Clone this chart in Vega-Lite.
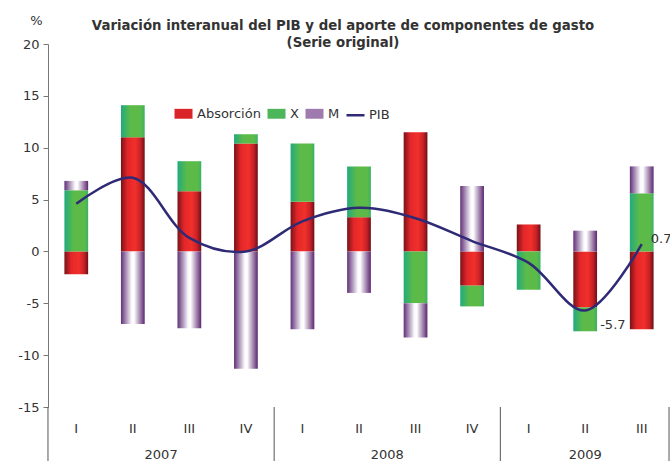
{
  "$schema": "https://vega.github.io/schema/vega-lite/v6.json",
  "autosize": "none",
  "width": 622,
  "height": 363,
  "padding": {"left": 48, "top": 44, "right": 0, "bottom": 54},
  "background": "white",
  "config": {"font": "DejaVu Sans", "view": {"stroke": null}},
  "title": {
    "text": ["Variación interanual del PIB y del aporte de componentes de gasto", "(Serie original)"],
    "font": "DejaVu Sans", "fontSize": 13.3, "fontWeight": "bold", "color": "#333333", "anchor": "middle", "frame": "group",
    "dx": -16, "offset": -35, "lineHeight": 17
  },
  "datasets": {
    "comp": [
      {"per": "2007-I", "comp": "Absorción", "val": -2.2}, {"per": "2007-I", "comp": "X", "val": 5.9}, {"per": "2007-I", "comp": "M", "val": 0.9},
      {"per": "2007-II", "comp": "Absorción", "val": 11.0}, {"per": "2007-II", "comp": "X", "val": 3.1}, {"per": "2007-II", "comp": "M", "val": -7.0},
      {"per": "2007-III", "comp": "Absorción", "val": 5.8}, {"per": "2007-III", "comp": "X", "val": 2.9}, {"per": "2007-III", "comp": "M", "val": -7.4},
      {"per": "2007-IV", "comp": "Absorción", "val": 10.4}, {"per": "2007-IV", "comp": "X", "val": 0.9}, {"per": "2007-IV", "comp": "M", "val": -11.3},
      {"per": "2008-I", "comp": "Absorción", "val": 4.8}, {"per": "2008-I", "comp": "X", "val": 5.6}, {"per": "2008-I", "comp": "M", "val": -7.5},
      {"per": "2008-II", "comp": "Absorción", "val": 3.3}, {"per": "2008-II", "comp": "X", "val": 4.9}, {"per": "2008-II", "comp": "M", "val": -4.0},
      {"per": "2008-III", "comp": "Absorción", "val": 11.5}, {"per": "2008-III", "comp": "X", "val": -5.0}, {"per": "2008-III", "comp": "M", "val": -3.3},
      {"per": "2008-IV", "comp": "Absorción", "val": -3.3}, {"per": "2008-IV", "comp": "X", "val": -2.0}, {"per": "2008-IV", "comp": "M", "val": 6.3},
      {"per": "2009-I", "comp": "Absorción", "val": 2.6}, {"per": "2009-I", "comp": "X", "val": -3.7}, {"per": "2009-I", "comp": "M", "val": 0.0},
      {"per": "2009-II", "comp": "Absorción", "val": -5.4}, {"per": "2009-II", "comp": "X", "val": -2.3}, {"per": "2009-II", "comp": "M", "val": 2.0},
      {"per": "2009-III", "comp": "Absorción", "val": -7.5}, {"per": "2009-III", "comp": "X", "val": 5.6}, {"per": "2009-III", "comp": "M", "val": 2.6}
    ],
    "pib": [
      {"per": "2007-I", "pib": 4.6}, {"per": "2007-II", "pib": 7.1}, {"per": "2007-III", "pib": 1.3}, {"per": "2007-IV", "pib": 0.0},
      {"per": "2008-I", "pib": 2.9}, {"per": "2008-II", "pib": 4.2}, {"per": "2008-III", "pib": 3.2}, {"per": "2008-IV", "pib": 1.0},
      {"per": "2009-I", "pib": -1.1}, {"per": "2009-II", "pib": -5.7}, {"per": "2009-III", "pib": 0.7}
    ],
    "years": [
      {"year": "2007", "per": "2007-II", "grp": "a"}, {"year": "2008", "per": "2008-II", "grp": "a"}, {"year": "2009", "per": "2009-II", "grp": "b"}
    ],
    "seps": [
      {"per": "2007-I", "side": "left"}, {"per": "2008-I", "side": "left"}, {"per": "2009-I", "side": "left"}, {"per": "2009-III", "side": "right"}
    ]
  },
  "encoding": {
    "x": {
      "field": "per", "type": "nominal", "sort": null,
      "scale": {"domain": ["2007-I","2007-II","2007-III","2007-IV","2008-I","2008-II","2008-III","2008-IV","2009-I","2009-II","2009-III"], "paddingInner": 0.58, "paddingOuter": 0.29},
      "axis": {"title": null, "domain": false, "ticks": false, "labelAngle": 0, "labelExpr": "split(datum.value, '-')[1]", "labelPadding": 15, "labelFontSize": 13, "labelColor": "#333333"}
    }
  },
  "layer": [
    {
      "data": {"name": "comp"},
      "transform": [
        {"calculate": "indexof(['Absorción','X','M'], datum.comp)", "as": "ord"},
        {"stack": "val", "groupby": ["per"], "sort": [{"field": "ord", "order": "ascending"}], "offset": "zero", "as": ["v0", "v1"]}
      ],
      "encoding": {
        "y": {
          "field": "v0", "type": "quantitative",
          "scale": {"domain": [-15, 20], "nice": false, "zero": false},
          "axis": {"values": [-15, -10, -5, 0, 5, 10, 15, 20], "labelExpr": "'' + datum.value", "grid": false, "tickSize": 5, "tickColor": "#777777", "domainColor": "#777777", "labelFontSize": 13, "labelColor": "#333333", "labelPadding": 4,
                   "title": "%", "titleAngle": 0, "titleX": -12, "titleY": -24, "titleAlign": "center", "titleBaseline": "middle", "titleFontSize": 13, "titleFontWeight": "normal", "titleColor": "#333333"}
        },
        "y2": {"field": "v1"}
      },
      "layer": [
        {
          "transform": [{"filter": "datum.comp === 'Absorción'"}],
          "mark": {"type": "bar", "color": {"gradient": "linear", "x1": 0, "y1": 0, "x2": 1, "y2": 0, "stops": [{"offset": 0, "color": "#781317"}, {"offset": 0.28, "color": "#E3262A"}, {"offset": 0.6, "color": "#F1302A"}, {"offset": 0.82, "color": "#C92128"}, {"offset": 1, "color": "#6E1016"}]}}
        },
        {
          "transform": [{"filter": "datum.comp === 'X'"}],
          "mark": {"type": "bar", "color": {"gradient": "linear", "x1": 0, "y1": 0, "x2": 1, "y2": 0, "stops": [{"offset": 0, "color": "#22AA7E"}, {"offset": 0.4, "color": "#5CBB48"}, {"offset": 0.85, "color": "#5CBB48"}, {"offset": 1, "color": "#38B166"}]}}
        },
        {
          "transform": [{"filter": "datum.comp === 'M'"}],
          "mark": {"type": "bar", "color": {"gradient": "linear", "x1": 0, "y1": 0, "x2": 1, "y2": 0, "stops": [{"offset": 0, "color": "#603078"}, {"offset": 0.45, "color": "#FBFAFC"}, {"offset": 0.55, "color": "#FFFFFF"}, {"offset": 1, "color": "#5C2670"}]}}
        },
        {
          "mark": {"type": "bar", "opacity": 0},
          "encoding": {
            "color": {
              "field": "comp", "type": "nominal",
              "scale": {"domain": ["Absorción", "X", "M", "PIB"], "range": ["#D9252A", "#4DB55A", "#9E7AAE", "#2E2A76"]},
              "legend": {
                "title": null, "orient": "none", "legendX": 125, "legendY": 59, "direction": "horizontal",
                "labelFontSize": 13, "labelColor": "#333333", "labelOffset": 3, "columnPadding": 1, "symbolSize": 324, "symbolOpacity": 1,
                "encode": {"symbols": {"update": {
                  "shape": {"signal": "datum.value === 'PIB' ? 'stroke' : 'M-1,-0.55H1V0.55H-1Z'"},
                  "stroke": {"signal": "datum.value === 'PIB' ? '#2E2A76' : 'transparent'"},
                  "strokeWidth": {"value": 2.5},
                  "opacity": {"value": 1}
                }}}
              }
            }
          }
        }
      ]
    },
    {
      "mark": {"type": "rule", "color": "#222222", "strokeWidth": 1},
      "encoding": {"y": {"datum": 0}, "x": null}
    },
    {
      "data": {"name": "pib"},
      "mark": {"type": "line", "interpolate": "catmull-rom", "strokeWidth": 2.5, "color": "#2E2A76"},
      "encoding": {"y": {"field": "pib", "type": "quantitative"}}
    },
    {
      "data": {"name": "pib"},
      "transform": [{"filter": "datum.per === '2009-II'"}],
      "mark": {"type": "text", "align": "left", "baseline": "middle", "dx": 15, "dy": 14, "fontSize": 13, "color": "#333333"},
      "encoding": {"y": {"field": "pib", "type": "quantitative"}, "text": {"field": "pib", "type": "nominal"}}
    },
    {
      "data": {"name": "pib"},
      "transform": [{"filter": "datum.per === '2009-III'"}],
      "mark": {"type": "text", "align": "left", "baseline": "middle", "dx": 9, "dy": -5, "fontSize": 13, "color": "#333333"},
      "encoding": {"y": {"field": "pib", "type": "quantitative"}, "text": {"field": "pib", "type": "nominal"}}
    },
    {
      "data": {"name": "years"},
      "transform": [{"filter": "datum.grp === 'a'"}],
      "mark": {"type": "text", "align": "center", "baseline": "middle", "xOffset": 28.3, "fontSize": 13, "color": "#333333"},
      "encoding": {"y": {"datum": -19.6}, "text": {"field": "year"}}
    },
    {
      "data": {"name": "years"},
      "transform": [{"filter": "datum.grp === 'b'"}],
      "mark": {"type": "text", "align": "center", "baseline": "middle", "fontSize": 13, "color": "#333333"},
      "encoding": {"y": {"datum": -19.6}, "text": {"field": "year"}}
    },
    {
      "data": {"name": "seps"},
      "transform": [{"filter": "datum.side === 'left'"}],
      "mark": {"type": "rule", "xOffset": -28.3, "color": "#555555", "strokeWidth": 1},
      "encoding": {"y": {"datum": -15}, "y2": {"datum": -20.3}}
    },
    {
      "data": {"name": "seps"},
      "transform": [{"filter": "datum.side === 'right'"}],
      "mark": {"type": "rule", "xOffset": 27.3, "color": "#555555", "strokeWidth": 1},
      "encoding": {"y": {"datum": -15}, "y2": {"datum": -20.3}}
    }
  ]
}
